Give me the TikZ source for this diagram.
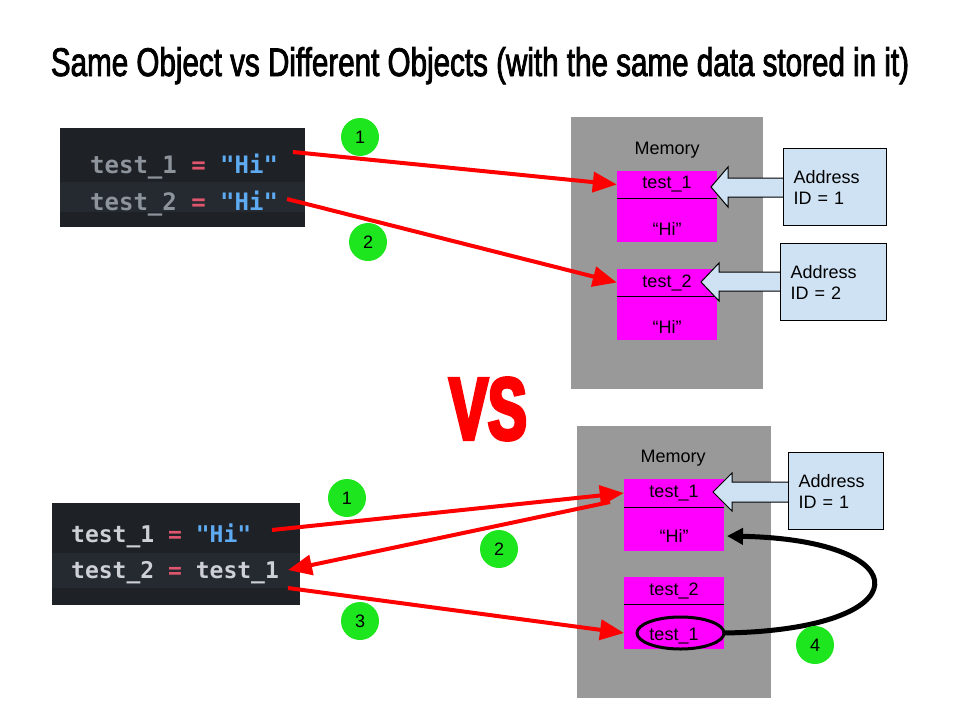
\documentclass[tikz,border=0pt]{standalone}
\usepackage{fontspec}
\setmainfont{Liberation Sans}
\newfontfamily\titlefont[FakeStretch=0.74,FakeBold=2]{Liberation Sans}
\newfontfamily\vsfont[FakeStretch=0.66,FakeBold=4]{Liberation Sans Bold}
\newfontfamily\codefont{DejaVu Sans Mono}
\usetikzlibrary{arrows.meta}

\definecolor{codebg}{HTML}{1E2227}
\definecolor{codeband}{HTML}{252930}
\definecolor{codegray}{HTML}{8E949C}
\definecolor{codelight}{HTML}{CDD1D6}
\definecolor{codepink}{HTML}{E0566E}
\definecolor{codeblue}{HTML}{5EABF2}
\definecolor{memgray}{HTML}{999999}
\definecolor{cellpink}{HTML}{FF00FF}
\definecolor{idblue}{HTML}{CFE2F3}
\definecolor{stepgreen}{HTML}{1EE61E}

\tikzset{
  cellhead/.style={fill=cellpink, minimum width=100pt, minimum height=27pt, inner sep=0pt, font=\fontsize{18}{18}\selectfont},
  cellbody/.style={fill=cellpink, minimum width=100pt, minimum height=44pt, inner sep=0pt},
  celltext/.style={inner sep=0pt, font=\fontsize{18}{18}\selectfont},
  idbox/.style={draw=black, fill=idblue, line width=1pt, align=left, anchor=north west, minimum height=77pt, inner xsep=10pt, font=\fontsize{18}{21}\selectfont},
  idarrow/.style={draw=black, fill=idblue, line width=1pt},
  stepnum/.style={circle, fill=stepgreen, minimum size=38pt, inner sep=0pt, font=\fontsize{18}{18}\selectfont},
  redarrow/.style={draw=red, line width=4pt, -{Triangle[length=24pt,width=20pt]}},
  codeline/.style={anchor=base west, inner sep=0pt, font=\codefont\bfseries\fontsize{24}{24}\selectfont},
}

\begin{document}
\begin{tikzpicture}[x=1pt,y=-1pt]
\useasboundingbox[fill=white] (0,0) rectangle (960,720);

% title
\node[anchor=base, inner sep=0pt, font=\titlefont\fontsize{40}{40}\selectfont] (title) at (480,76)
  {Same Object vs Different Objects (with the same data stored in it)};

% ---------- top half ----------
\fill[codebg] (60,128) rectangle (305,227);
\fill[codeband] (60,182) rectangle (305,212);
\node[codeline] (top1) at (90,173) {\color{codegray}test\_1 \color{codepink}= \color{codeblue}"Hi"};
\node[codeline] (top2) at (90,210) {\color{codegray}test\_2 \color{codepink}= \color{codeblue}"Hi"};

\fill[memgray] (571,117) rectangle (763,389);
\node[celltext] (mem1) at (667,150) {Memory};

\node[cellhead] (h1) at (667,184.5) {test\_1};
\node[cellbody] (v1) at (667,220) {};
\node[celltext] at ([yshift=-9pt]v1.center) {“Hi”};
\draw[line width=1pt] (h1.south west) -- (h1.south east);

\node[cellhead] (h2) at (667,282.5) {test\_2};
\node[cellbody] (v2) at (667,318) {};
\node[celltext] at ([yshift=-9pt]v2.center) {“Hi”};
\draw[line width=1pt] (h2.south west) -- (h2.south east);

\draw[idarrow] (783,178) -- (728,178) -- (728,167) -- (711,187) -- (728,207) -- (728,197) -- (783,197);
\node[idbox, minimum width=103pt, text width=83pt] (id1) at (783,148) {Address\\ID = 1};
\draw[idarrow] (780,272) -- (719,272) -- (719,263) -- (701,282) -- (719,301) -- (719,291) -- (780,291);
\node[idbox, minimum width=106pt, text width=86pt] (id2) at (780,243) {Address\\ID = 2};

\coordinate (s1) at (293,152);
\coordinate (s2) at (287,199);
\draw[redarrow] (s1) -- (h1.west);
\draw[redarrow] (s2) -- (h2.west);
\node[stepnum] (n1) at (360,137) {1};
\node[stepnum] (n2) at (368,242) {2};

% vs
\node[inner sep=0pt, text=red, font=\vsfont\fontsize{88}{88}\selectfont] (vs) at (488,409) {VS};

% ---------- bottom half ----------
\fill[codebg] (52,503) rectangle (300,605);
\fill[codeband] (52,553) rectangle (300,588);
\node[codeline, font=\codefont\bfseries\fontsize{23}{23}\selectfont] (bot1) at (71,542) {\color{codelight}test\_1 \color{codepink}= \color{codeblue}"Hi"};
\node[codeline, font=\codefont\bfseries\fontsize{23}{23}\selectfont] (bot2) at (71,578) {\color{codelight}test\_2 \color{codepink}= \color{codelight}test\_1};

\fill[memgray] (577,426) rectangle (771,698);
\node[celltext] (mem2) at (673,458) {Memory};

\node[cellhead, minimum height=28pt] (bh1) at (674,493) {test\_1};
\node[cellbody] (bv1) at (674,529) {};
\node[celltext] (hi) at ([yshift=-7pt]bv1.center) {“Hi”};
\draw[line width=1pt] (bh1.south west) -- (bh1.south east);

\node[cellhead] (bh2) at (674,590.5) {test\_2};
\node[cellbody, minimum height=45pt] (bv2) at (674,626.5) {};
\node[celltext] at ([yshift=-10pt]bv2.center) {test\_1};
\draw[line width=1pt] (bh2.south west) -- (bh2.south east);
\draw[line width=3pt] (680.5,633) ellipse (43.5 and 16);
\coordinate (ring) at (724,633);

\draw[idarrow] (788,482) -- (732,482) -- (732,473) -- (713,492) -- (732,511) -- (732,502) -- (788,502);
\node[idbox, minimum width=95pt, text width=75pt] (id3) at (788,452) {Address\\ID = 1};

\coordinate (b1s) at (272,530);
\coordinate (b2s) at (610,502);
\coordinate (b2e) at (288,570);
\coordinate (b3s) at (288,588);
\coordinate (b3e) at (624,633);
\draw[redarrow] (b1s) -- (bh1.west);
\draw[redarrow] (b2s) -- (b2e);
\draw[redarrow] (b3s) -- (b3e);
\draw[line width=5pt, -{Triangle[length=16pt,width=16pt]}] (ring) .. controls (922,630) and (922,540) .. (727,536);

\node[stepnum] (m1) at (347,498) {1};
\node[stepnum] (m2) at (499,549) {2};
\node[stepnum] (m3) at (360,621) {3};
\node[stepnum] (m4) at (815,645) {4};
\end{tikzpicture}
\end{document}
